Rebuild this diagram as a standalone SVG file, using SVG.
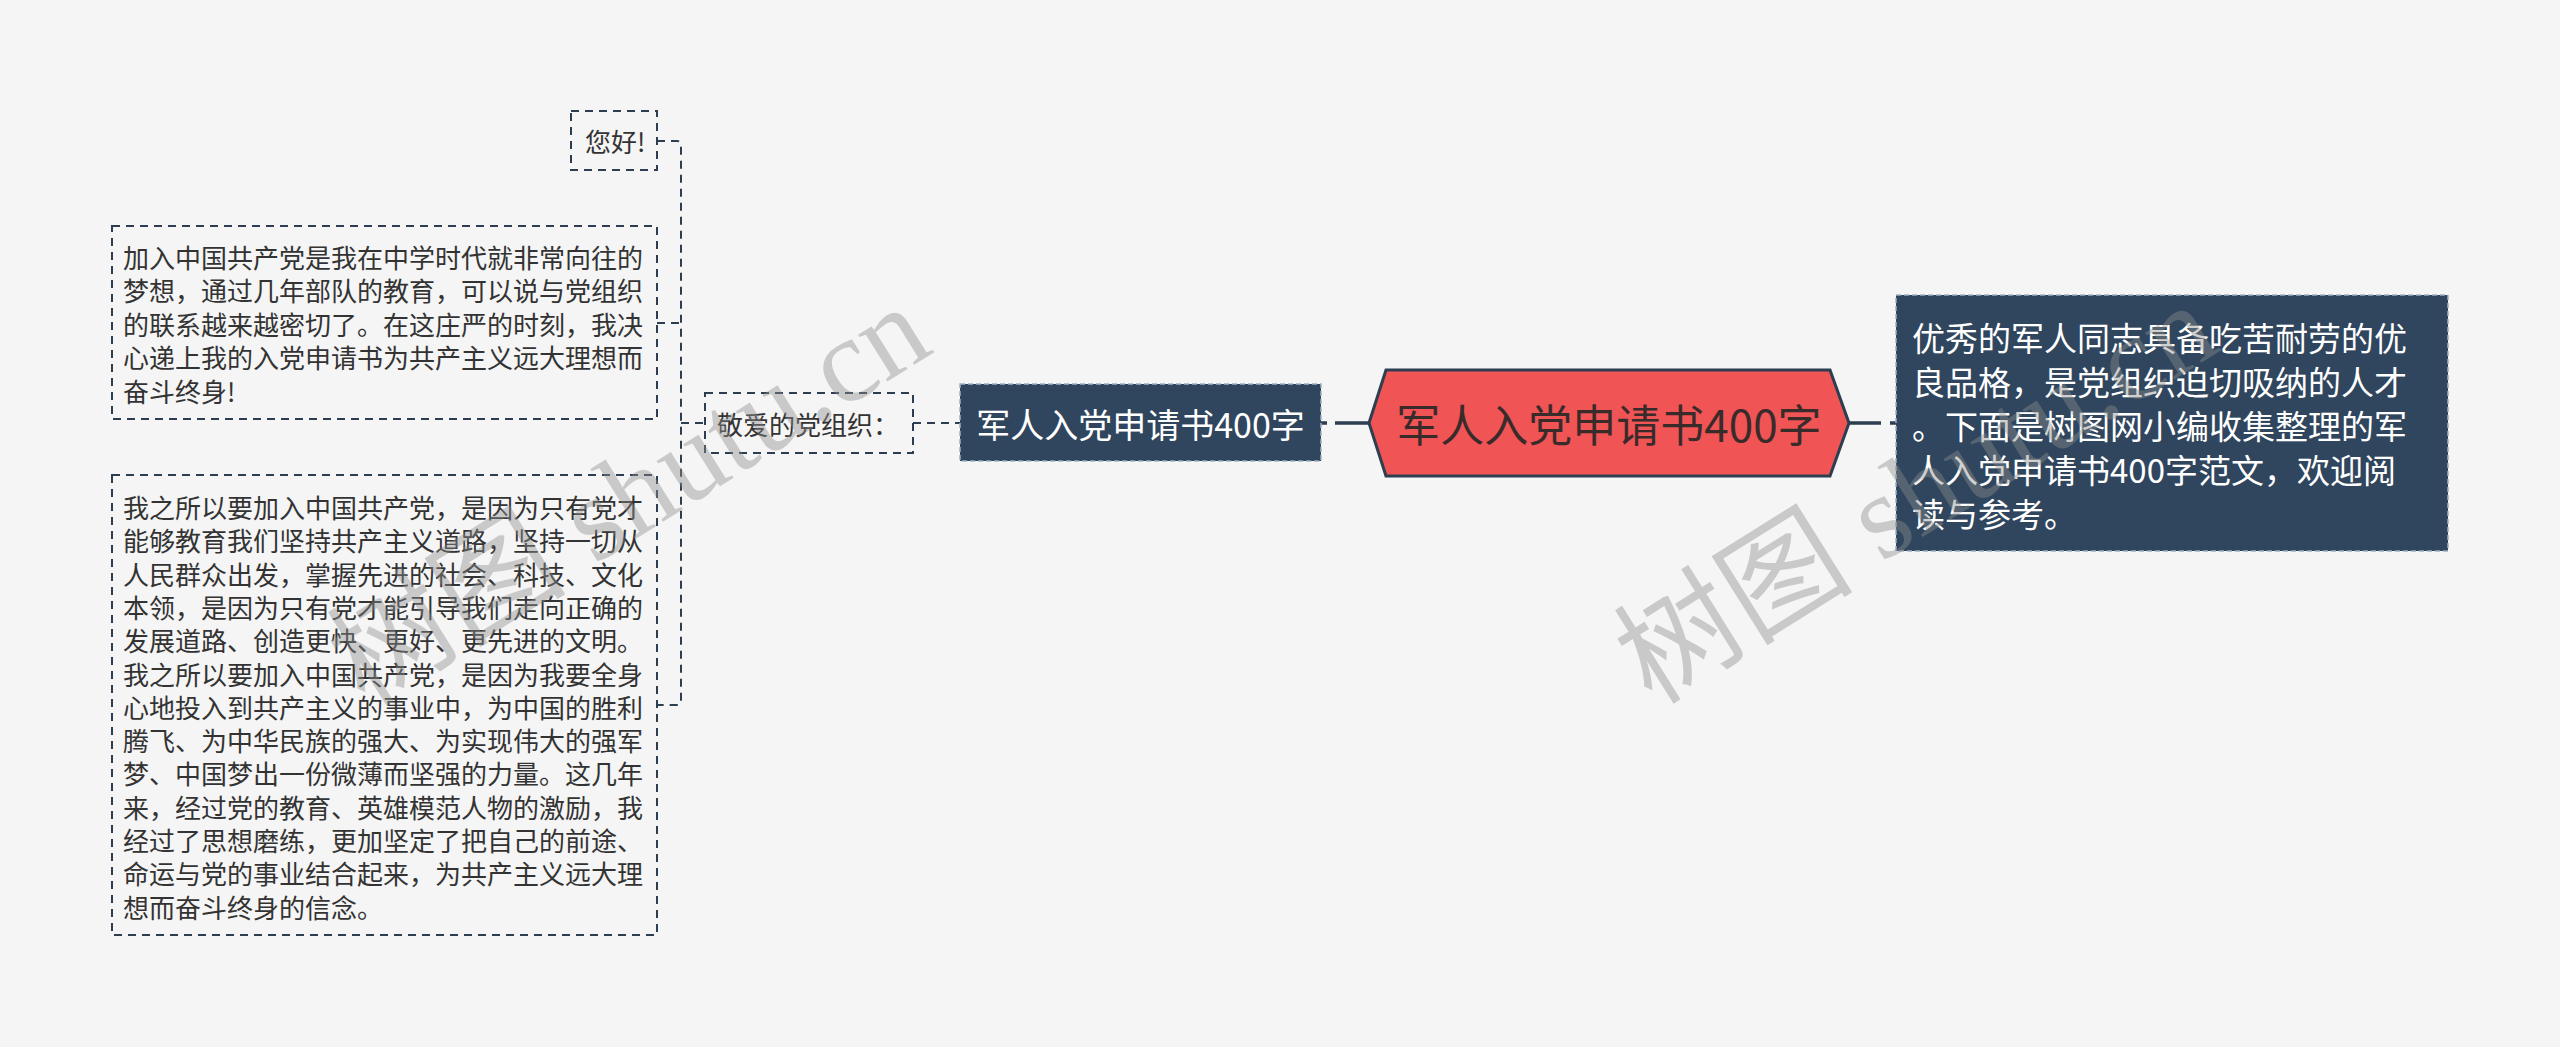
<svg xmlns="http://www.w3.org/2000/svg" width="2560" height="1047" viewBox="0 0 2560 1047">
<style>
.bg{fill:#f5f5f5}
.lbox{fill:#f5f5f5;stroke:#2c3e50;stroke-width:2;stroke-dasharray:8 6}
.dbox{fill:#30465e;stroke:#9fb0c2;stroke-width:1.5;stroke-dasharray:5 3}
.t{font-family:"Noto Sans CJK SC","Noto Sans",sans-serif;fill:#333;font-size:26px}
.tw{font-family:"Noto Sans CJK SC","Noto Sans",sans-serif;fill:#ffffff}
.dash{fill:none;stroke:#2c3e50;stroke-width:2;stroke-dasharray:8 6}
.solid{fill:none;stroke:#2c3e50;stroke-width:3.5}
.wm{font-family:"Liberation Serif","Noto Sans CJK SC",serif;font-size:120px;fill:#8c8c8c;fill-opacity:0.42}
</style>
<rect class="bg" x="0" y="0" width="2560" height="1047"/>

<g id="connectors">
<path class="dash" d="M657,141 H677 Q681,141 681,145 V701 Q681,705 677,705 H657"/>
<path class="dash" d="M657,323 H681"/>
<path class="dash" d="M681,423 H705"/>
<path class="dash" d="M913,423 H960"/>
<path class="solid" d="M1321,423 H1327 M1335,423 H1369"/>
<path class="solid" d="M1849,423 H1881 M1890,423 H1896"/>
</g>

<g id="node-hello">
<rect class="lbox" x="571" y="111" width="86" height="59"/>
<text class="t" x="585" y="140.5" dominant-baseline="central">您好!</text>
</g>

<g id="node-p1">
<rect class="lbox" x="112" y="226" width="545" height="193"/>
<text class="t" x="123" dominant-baseline="central">
<tspan x="123" y="256">加入中国共产党是我在中学时代就非常向往的</tspan>
<tspan x="123" y="289.4">梦想，通过几年部队的教育，可以说与党组织</tspan>
<tspan x="123" y="322.8">的联系越来越密切了。在这庄严的时刻，我决</tspan>
<tspan x="123" y="356.2">心递上我的入党申请书为共产主义远大理想而</tspan>
<tspan x="123" y="389.6">奋斗终身!</tspan>
</text>
</g>

<g id="node-p2">
<rect class="lbox" x="112" y="475" width="545" height="460"/>
<text class="t" dominant-baseline="central">
<tspan x="123" y="506">我之所以要加入中国共产党，是因为只有党才</tspan>
<tspan x="123" y="539.3">能够教育我们坚持共产主义道路，坚持一切从</tspan>
<tspan x="123" y="572.6">人民群众出发，掌握先进的社会、科技、文化</tspan>
<tspan x="123" y="605.9">本领，是因为只有党才能引导我们走向正确的</tspan>
<tspan x="123" y="639.2">发展道路、创造更快、更好、更先进的文明。</tspan>
<tspan x="123" y="672.5">我之所以要加入中国共产党，是因为我要全身</tspan>
<tspan x="123" y="705.8">心地投入到共产主义的事业中，为中国的胜利</tspan>
<tspan x="123" y="739.1">腾飞、为中华民族的强大、为实现伟大的强军</tspan>
<tspan x="123" y="772.4">梦、中国梦出一份微薄而坚强的力量。这几年</tspan>
<tspan x="123" y="805.7">来，经过党的教育、英雄模范人物的激励，我</tspan>
<tspan x="123" y="839">经过了思想磨练，更加坚定了把自己的前途、</tspan>
<tspan x="123" y="872.3">命运与党的事业结合起来，为共产主义远大理</tspan>
<tspan x="123" y="905.6">想而奋斗终身的信念。</tspan>
</text>
</g>

<g id="node-greeting">
<rect class="lbox" x="705" y="393" width="208" height="60"/>
<text class="t" x="717" y="423" dominant-baseline="central">敬爱的党组织：</text>
</g>

<g id="node-sub">
<rect class="dbox" x="960" y="384" width="361" height="77"/>
<text class="tw" x="1140.5" y="423" font-size="34" text-anchor="middle" dominant-baseline="central">军人入党申请书400字</text>
</g>

<g id="node-center">
<polygon points="1369,423 1386,370 1830,370 1849,423 1830,476 1386,476" fill="#f05455" stroke="#2c3e50" stroke-width="3"/>
<text x="1609" y="423" font-family="'Noto Sans CJK SC','Noto Sans',sans-serif" font-size="44" fill="#3a2b2b" text-anchor="middle" dominant-baseline="central">军人入党申请书400字</text>
</g>

<g id="node-intro">
<rect class="dbox" x="1896" y="295" width="552" height="256"/>
<text class="tw" font-size="33" dominant-baseline="central">
<tspan x="1912" y="337">优秀的军人同志具备吃苦耐劳的优</tspan>
<tspan x="1912" y="381">良品格，是党组织迫切吸纳的人才</tspan>
<tspan x="1912" y="425">。下面是树图网小编收集整理的军</tspan>
<tspan x="1912" y="469">人入党申请书400字范文，欢迎阅</tspan>
<tspan x="1912" y="513">读与参考。</tspan>
</text>
</g>

<g id="watermarks">
<text class="wm" transform="translate(365,708) rotate(-32)">树图 shutu.cn</text>
<text class="wm" transform="translate(1652,706) rotate(-32)">树图 shutu.cn</text>
</g>
</svg>
